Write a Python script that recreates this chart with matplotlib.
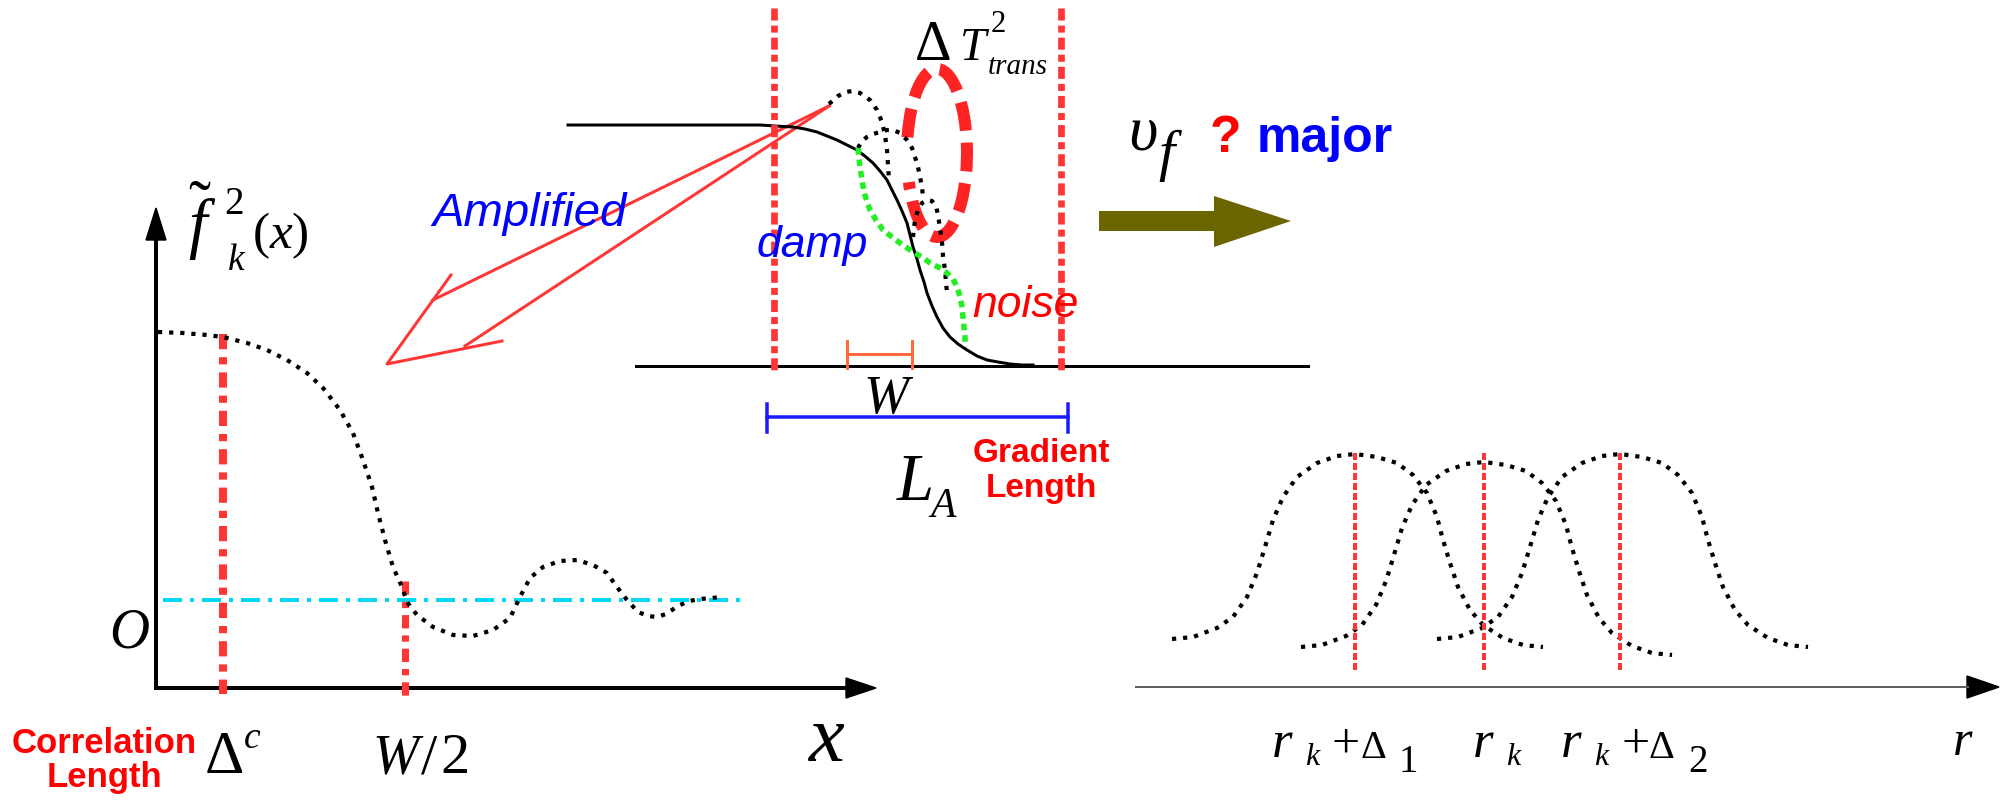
import matplotlib
matplotlib.use("Agg")
import matplotlib.pyplot as plt
from matplotlib.patches import Polygon, Arc

plt.rcParams['mathtext.fontset'] = 'custom'
plt.rcParams['mathtext.rm'] = 'Liberation Serif'
plt.rcParams['mathtext.it'] = 'Liberation Serif:italic'
plt.rcParams['mathtext.bf'] = 'Liberation Serif:bold'

# ---------------- data (canvas pixel units) ----------------
# left panel: correlation curve f_k^2(x)
corr_x = [158, 183, 207, 223, 247, 267, 287, 307, 323, 340, 353, 363, 372, 378, 385, 393, 402,
          407, 417, 433, 453, 473, 493, 510, 520, 530, 543, 560, 577, 593, 607, 617, 627, 638,
          648, 657, 666, 678, 689, 700, 712, 721]
corr_y = [332, 333, 335, 337, 343, 350, 360, 373, 388, 410, 433, 460, 487, 513, 540, 567, 587,
          602, 615, 627, 635, 636, 630, 618, 597, 578, 567, 561, 560, 565, 573, 587, 600, 612,
          616, 617, 614, 606, 601, 599, 598, 597]
zero_level = 600
delta_c_x = 223
half_w_x = 405

# middle panel: front profile and perturbations
front_x = [568, 760, 775, 793, 805, 817, 827, 837, 847, 857, 866, 873, 880, 887, 892, 897, 902,
           907, 910, 913, 917, 920, 924, 927, 932, 937, 943, 950, 958, 967, 977, 987, 998, 1010,
           1022, 1033]
front_y = [125, 125, 126, 127, 129, 132, 136, 140, 145, 150, 157, 163, 171, 180, 190, 200, 211,
           223, 235, 247, 259, 270, 282, 293, 306, 317, 328, 337, 344, 350, 356, 360, 362, 364,
           365, 365]
hump_a_x = [829, 838, 846, 852, 860, 870, 877, 882, 885, 887, 888, 889]
hump_a_y = [104, 96, 92, 91, 93, 100, 110, 122, 135, 150, 165, 180]
hump_b_x = [858, 862, 867, 873, 880, 887, 893, 900, 907, 912, 915, 918, 920, 922, 923]
hump_b_y = [148, 141, 137, 134, 132, 130, 130, 133, 140, 148, 157, 167, 177, 187, 197]
hump_c_x = [913, 914, 915, 918, 922, 927, 932, 936, 938, 940, 942, 943, 945, 946, 947]
hump_c_y = [237, 228, 220, 210, 203, 200, 201, 206, 215, 228, 242, 256, 270, 282, 293]
damp_x = [858, 859, 860, 862, 864, 867, 870, 876, 883, 892, 900, 913, 922, 930, 940, 947, 953,
          957, 960, 962, 963, 964, 965, 965]
damp_y = [148, 158, 167, 180, 192, 202, 210, 220, 230, 237, 243, 252, 257, 263, 268, 273, 279,
          287, 296, 307, 317, 327, 337, 347]
gradient_edges = [774, 1061]
w_bracket = [847, 912]
la_bracket = [767, 1068]

# right panel: three shifted profiles (offsets from centre / peak)
bell_dx = [-183, -162, -138, -122, -108, -98, -90, -82, -72, -58, -38, -18, 0, 22, 42, 58, 72,
           82, 88, 95, 103, 115, 128, 148, 168, 188]
bell_dy = [185, 183, 174, 163, 143, 119, 93, 66, 43, 23, 9, 2, 0, 3, 9, 21, 39, 63, 86, 109, 133,
           156, 171, 184, 191, 193]
bell_centers = [1355, 1484, 1620]
bell_peaks = [454, 462, 454]

# ---------------- figure ----------------
fig = plt.figure(figsize=(20.01, 8), dpi=100)
ax = fig.add_axes([0, 0, 1, 1])
ax.set_xlim(0, 2001)
ax.set_ylim(800, 0)
ax.axis('off')

RED = '#ff3636'
px = 0.72  # points per pixel
DOT_LW = 4.2 * px

def T(x, y, s, size, color='black', family='Liberation Serif', style='normal',
      weight='normal', ha='left', va='baseline'):
    ax.text(x, y, s, fontsize=size, color=color, family=family, style=style,
            weight=weight, ha=ha, va=va)

# ----- left panel -----
ax.plot([156, 156], [688, 236], color='black', lw=4 * px, solid_capstyle='butt')
ax.plot([156, 848], [688, 688], color='black', lw=4 * px, solid_capstyle='projecting')
ax.add_patch(Polygon([(146, 240), (156, 208), (166, 240)], closed=True, color='black'))
ax.add_patch(Polygon([(846, 678), (876, 688), (846, 698)], closed=True, color='black'))
ax.plot([163, 746], [zero_level, zero_level], color='#00d8f5', lw=4 * px,
        linestyle=(0, (4.75, 2, 1, 2)))
ax.plot([delta_c_x, delta_c_x], [334, 694], color=RED, lw=8 * px,
        linestyle=(0, (1.9, 1.0, 0.9, 1.0)))
ax.plot([half_w_x, half_w_x], [581, 697], color=RED, lw=7 * px,
        linestyle=(0, (1.9, 1.0, 0.9, 1.0)))
ax.plot(corr_x, corr_y, color='black', lw=DOT_LW, linestyle=':')

# red outline arrow "Amplified"
ax.plot([829, 433], [106, 300], color=RED, lw=3 * px)
ax.plot([829, 465], [106, 346], color=RED, lw=3 * px)
ax.plot([451, 387, 502], [275, 364, 341], color=RED, lw=3 * px)

# labels left
T(188, 247, r'$\tilde{f}$', 48)
T(224, 214, '2', 28)
T(228, 270, 'k', 27, style='italic')
T(252, 248, r'$(x)$', 37)
T(109, 647, 'O', 40, style='italic')
T(809, 761, 'x', 58, style='italic')
T(205, 773, '\u0394', 44)
T(244, 748, 'c', 27, style='italic')
T(372, 773, 'W', 40, style='italic')
T(421, 773, '/', 42)
T(440, 773, '2', 42)
T(104, 753, 'Correlation', 25, color='#ff0000', family='Liberation Sans', weight='bold', ha='center')
T(104, 787, 'Length', 25, color='#ff0000', family='Liberation Sans', weight='bold', ha='center')
T(432, 226, 'Amplified', 34, color='#0000ff', family='Liberation Sans', style='italic')

# ----- middle panel -----
ax.plot([636, 1308], [366, 366], color='black', lw=3 * px)
ax.plot(front_x, front_y, color='black', lw=3 * px, solid_joinstyle='round')
for gx in gradient_edges:
    ax.plot([gx, gx], [8, 370], color=RED, lw=6.7 * px,
            linestyle=(0, (1.8, 0.75, 1.05, 0.75)))
ax.plot(hump_a_x, hump_a_y, color='black', lw=DOT_LW, linestyle=':')
ax.plot(hump_b_x, hump_b_y, color='black', lw=DOT_LW, linestyle=':')
ax.plot(hump_c_x, hump_c_y, color='black', lw=DOT_LW, linestyle=':')
ax.plot(damp_x, damp_y, color='#22ee22', lw=5.5 * px, linestyle=(0, (1.2, 0.9)))
ax.add_patch(Arc((937, 153), 60, 168, theta1=208, theta2=494, color='#ff2424',
                 lw=12 * px, linestyle=(0, (2.4, 1.0))))

# brackets
ax.plot(w_bracket, [354, 354], color='#ff6a3d', lw=3 * px)
for bx in w_bracket:
    ax.plot([bx, bx], [341, 368], color='#ff6a3d', lw=3 * px)
ax.plot(la_bracket, [417, 417], color='#1a1aff', lw=3.5 * px)
for bx in la_bracket:
    ax.plot([bx, bx], [404, 432], color='#1a1aff', lw=3.5 * px)

# flow arrow
ax.add_patch(Polygon([(1099, 211), (1214, 211), (1214, 196), (1291, 221), (1214, 247),
                      (1214, 231), (1099, 231)], closed=True, color='#6b6500', lw=0))

# labels middle
T(915, 60, '\u0394', 41)
T(960, 60, 'T', 34, style='italic')
T(991, 32, '2', 22)
T(988, 74, 'trans', 21, style='italic')
T(757, 257, 'damp', 32, color='#0000ff', family='Liberation Sans', style='italic')
T(972, 317, 'noise', 32, color='#ff0000', family='Liberation Sans', style='italic')
T(863, 413, 'W', 39, style='italic')
T(897, 500, 'L', 48, style='italic')
T(930, 517, 'A', 30, style='italic')
T(1041, 462, 'Gradient', 24, color='#ff0000', family='Liberation Sans', weight='bold', ha='center')
T(1041, 497, 'Length', 24, color='#ff0000', family='Liberation Sans', weight='bold', ha='center')
T(1128, 149, '\u03c5', 46, style='italic')
T(1158, 170, 'f', 42, style='italic')
T(1210, 152, '?', 37, color='#ff0000', family='Liberation Sans', weight='bold')
T(1257, 152, 'major', 36, color='#0000ff', family='Liberation Sans', weight='bold')

# ----- right panel -----
ax.plot([1136, 1968], [687, 687], color='#606060', lw=2 * px)
ax.add_patch(Polygon([(1967, 676), (1999, 687), (1967, 698)], closed=True, color='black'))
for c, p in zip(bell_centers, bell_peaks):
    ax.plot([c + d for d in bell_dx], [p + d for d in bell_dy], color='black',
            lw=DOT_LW, linestyle=':')
for c in bell_centers:
    ax.plot([c, c], [453, 673], color=RED, lw=4 * px, linestyle=(0, (1.75, 0.75)))

def r_label(x0, sub=None):
    T(x0, 757, 'r', 38, style='italic')
    T(x0 + 33, 765, 'k', 23, style='italic')
    if sub is not None:
        T(x0 + 60, 757, '+', 36)
        T(x0 + 88, 758, '\u0394', 29)
        T(x0 + 127, 772, sub, 28)

r_label(1272, '1')
r_label(1473)
r_label(1561, '2')
T(1953, 755, 'r', 36, style='italic')

fig.savefig('out.png', dpi=100)
